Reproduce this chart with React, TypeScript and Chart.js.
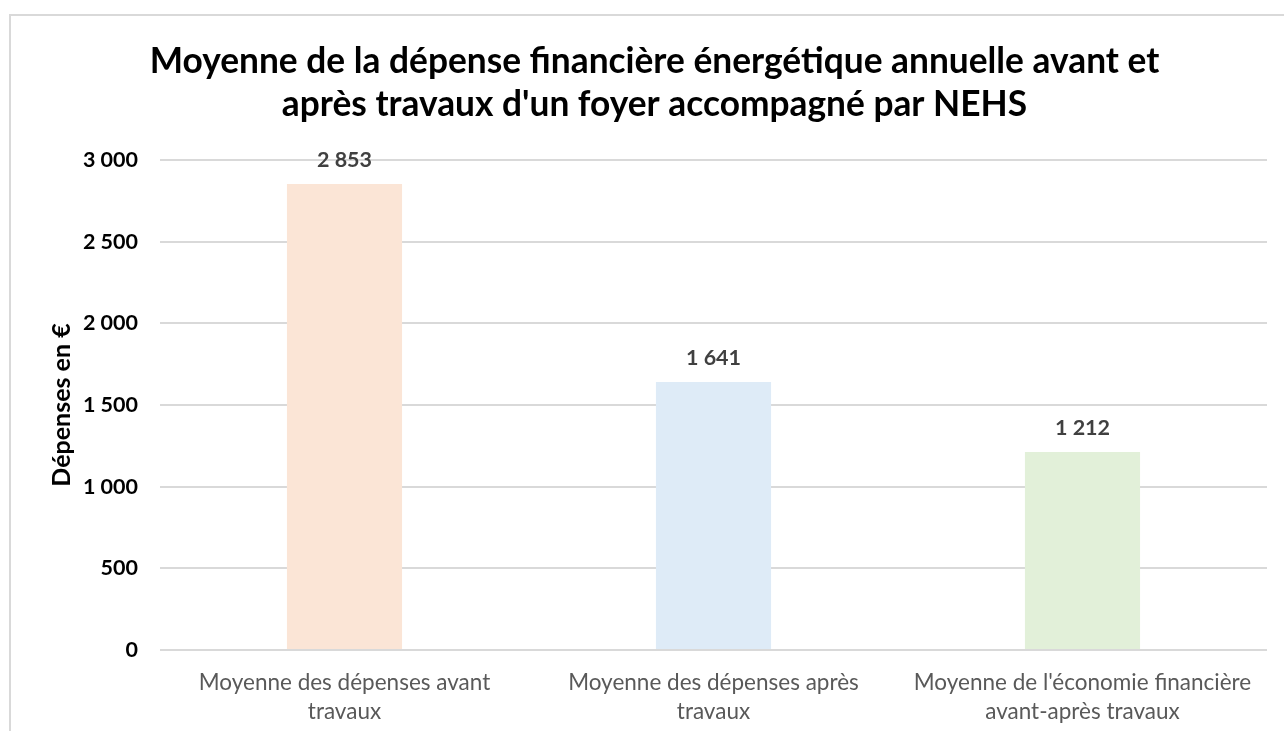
import React, { useEffect, useRef } from "react";
import { Chart, registerables } from "chart.js";

Chart.register(...registerables);

const titleLines = [
  "Moyenne de la dépense financière énergétique annuelle avant et",
  "après travaux d'un foyer accompagné par NEHS",
];
const categories = [
  ["Moyenne des dépenses avant", "travaux"],
  ["Moyenne des dépenses après", "travaux"],
  ["Moyenne de l'économie financière", "avant-après travaux"],
];
const values = [2853, 1641, 1212];
const barColors = ["#FBE5D6", "#DEEBF7", "#E2F0D9"];
const yAxisTitle = "Dépenses en €";
const yMin = 0;
const yMax = 3000;
const yStep = 500;

const fmt = (v: number) => {
  const s = Math.round(v).toString();
  return s.replace(/\B(?=(\d{3})+(?!\d))/g, " ");
};

const FONT = "Lato, 'Open Sans', sans-serif";

const dataLabelPlugin = {
  id: "dataLabels",
  afterDatasetsDraw(chart: any) {
    const ctx = chart.ctx;
    ctx.save();
    ctx.font = `bold 21.5px ${FONT}`;
    ctx.fillStyle = "#404040";
    ctx.textAlign = "center";
    ctx.textBaseline = "middle";
    chart.data.datasets.forEach((ds: any, di: number) => {
      const meta = chart.getDatasetMeta(di);
      meta.data.forEach((bar: any, i: number) => {
        ctx.fillText(fmt(ds.data[i]), bar.x, bar.y - 24);
      });
    });
    ctx.restore();
  },
};

export default function App() {
  const ref = useRef<HTMLCanvasElement | null>(null);
  useEffect(() => {
    if (!ref.current) return;
    const chart = new Chart(ref.current, {
      type: "bar",
      data: {
        labels: categories,
        datasets: [
          {
            data: values,
            backgroundColor: barColors,
            borderWidth: 0,
            categoryPercentage: 1,
            barPercentage: 0.312,
          },
        ],
      },
      options: {
        responsive: false,
        animation: false,
        layout: { padding: { left: 42, right: 17, top: 0, bottom: 0 } },
        plugins: {
          legend: { display: false },
          tooltip: { enabled: false },
          title: {
            display: true,
            text: titleLines,
            color: "#000000",
            font: { family: FONT, size: 35.3, weight: "bold", lineHeight: "43px" },
            padding: { top: 40.5, bottom: 33.5 },
          },
        },
        scales: {
          x: {
            grid: { display: false, drawTicks: false },
            border: { display: false },
            ticks: {
              color: "#595959",
              font: { family: FONT, size: 22.5, lineHeight: "29px" },
              padding: 18.5,
              maxRotation: 0,
              minRotation: 0,
              autoSkip: false,
            },
            afterFit(scale: any) {
              scale.height = 81;
            },
          },
          y: {
            min: yMin,
            max: yMax,
            grid: { color: "#D9D9D9", lineWidth: 2, drawTicks: false },
            border: { display: false },
            ticks: {
              stepSize: yStep,
              color: "#000000",
              font: { family: FONT, size: 21.5, weight: "bold" },
              padding: 22,
              callback: (v: any) => fmt(Number(v)),
            },
            title: {
              display: true,
              text: yAxisTitle,
              color: "#000000",
              font: { family: FONT, size: 25, weight: "bold", lineHeight: "30px" },
              padding: { top: 5, bottom: 0 },
            },
            afterFit(scale: any) {
              scale.width = 118;
            },
          },
        },
      },
      plugins: [dataLabelPlugin],
    });
    return () => chart.destroy();
  }, []);

  return (
    <div
      style={{
        position: "fixed",
        left: 0,
        top: 0,
        width: 1284,
        height: 731,
        overflow: "hidden",
        background: "#ffffff",
      }}
    >
      <div
        style={{
          position: "absolute",
          left: 9,
          top: 14,
          width: 1300,
          height: 740,
          borderLeft: "2px solid #D9D9D9",
          borderTop: "2px solid #D9D9D9",
        }}
      />
      <canvas
        ref={ref}
        width={1284}
        height={731}
        style={{ position: "absolute", left: 0, top: 0, width: 1284, height: 731 }}
      />
    </div>
  );
}
